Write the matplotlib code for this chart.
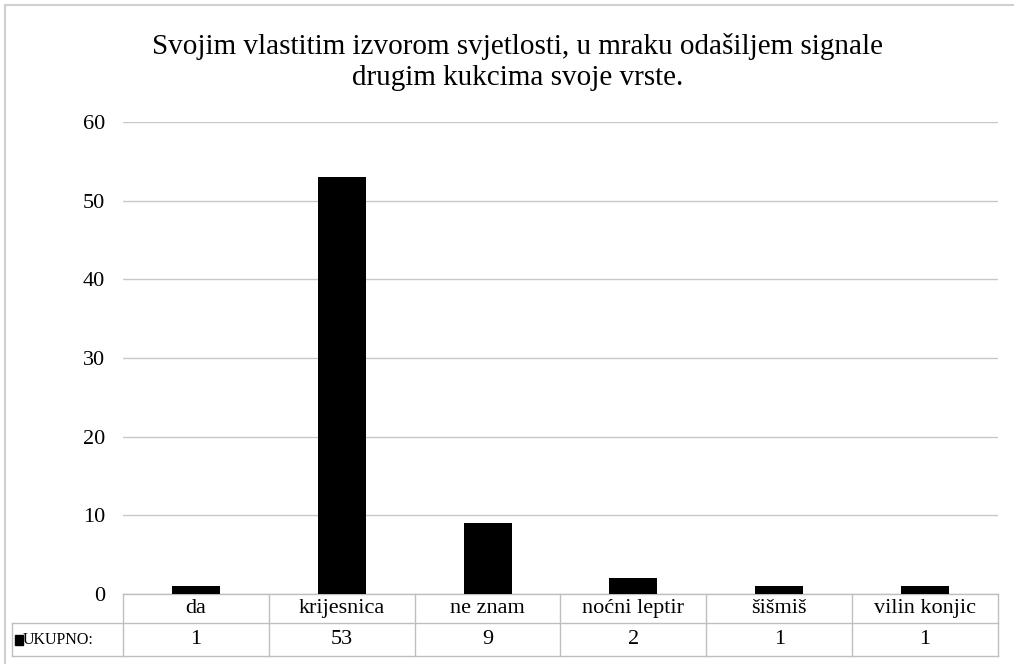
import matplotlib
matplotlib.use("Agg")
import matplotlib.pyplot as plt
from matplotlib.patches import Rectangle
from matplotlib.transforms import blended_transform_factory

categories = ["da", "krijesnica", "ne znam", "noćni leptir", "šišmiš", "vilin konjic"]
values = [1, 53, 9, 2, 1, 1]
series_name = "UKUPNO:"
title = "Svojim vlastitim izvorom svjetlosti, u mraku odašiljem signale\ndrugim kukcima svoje vrste."
yticks = [0, 10, 20, 30, 40, 50, 60]

serif = ["Liberation Serif", "DejaVu Serif"]
W, H = 1014, 664
fig = plt.figure(figsize=(W / 100, H / 100), dpi=100)
ax = fig.add_axes([123 / W, 1 - 594 / H, (998 - 123) / W, (594 - 122) / H])

x = list(range(len(categories)))
ax.bar(x, values, width=0.33, color="black", zorder=3)
ax.set_xlim(-0.5, len(categories) - 0.5)
ax.set_ylim(0, 60)
ax.set_yticks(yticks)
ax.set_yticklabels([str(t) for t in yticks], fontfamily=serif, fontsize=16)
ax.tick_params(axis="y", length=0, pad=13)
ax.set_xticks([])
ax.grid(axis="y", color="#c8c8c8", linewidth=1.0, zorder=0)
for s in ax.spines.values():
    s.set_visible(False)

fig.text(518 / W, 1 - 62 / H, title, ha="center", va="center", fontsize=21,
         fontfamily=serif, linespacing=1.25)

# data table below axes
gcol = "#bfbfbf"
trans = blended_transform_factory(ax.transData, fig.transFigure)
y_top = 1 - 594 / H
y_mid = 1 - 623 / H
y_bot = 1 - 656 / H
xl = -0.5
xr = len(categories) - 0.5
ax.plot([xl, xr], [y_top, y_top], transform=trans, color=gcol, lw=1, clip_on=False)
fig.add_artist(plt.Line2D([12 / W, 998 / W], [y_mid, y_mid], color=gcol, lw=1))
fig.add_artist(plt.Line2D([12 / W, 998 / W], [y_bot, y_bot], color=gcol, lw=1))
fig.add_artist(plt.Line2D([12 / W, 12 / W], [y_mid, y_bot], color=gcol, lw=1))
for i in range(len(categories) + 1):
    xv = i - 0.5
    ax.plot([xv, xv], [y_top, y_bot], transform=trans, color=gcol, lw=1, clip_on=False)
for i, (c, v) in enumerate(zip(categories, values)):
    ax.text(i, (y_top + y_mid) / 2, c, transform=trans, ha="center", va="center",
            fontsize=16, fontfamily=serif)
    ax.text(i, (y_mid + y_bot) / 2, str(v), transform=trans, ha="center", va="center",
            fontsize=16, fontfamily=serif)
fig.text(23 / W, (y_mid + y_bot) / 2, series_name, ha="left", va="center",
         fontsize=11.5, fontfamily=serif)
fig.add_artist(Rectangle((15 / W, (y_mid + y_bot) / 2 - 5 / H), 8 / W, 10 / H,
                         transform=fig.transFigure, color="black"))

# outer border
fig.add_artist(Rectangle((5 / W, -0.02), 1.1, 1 - 5 / H + 0.02, transform=fig.transFigure,
                         fill=False, edgecolor="#d0d0d0", lw=1.5))

fig.savefig("out.png", dpi=100)
